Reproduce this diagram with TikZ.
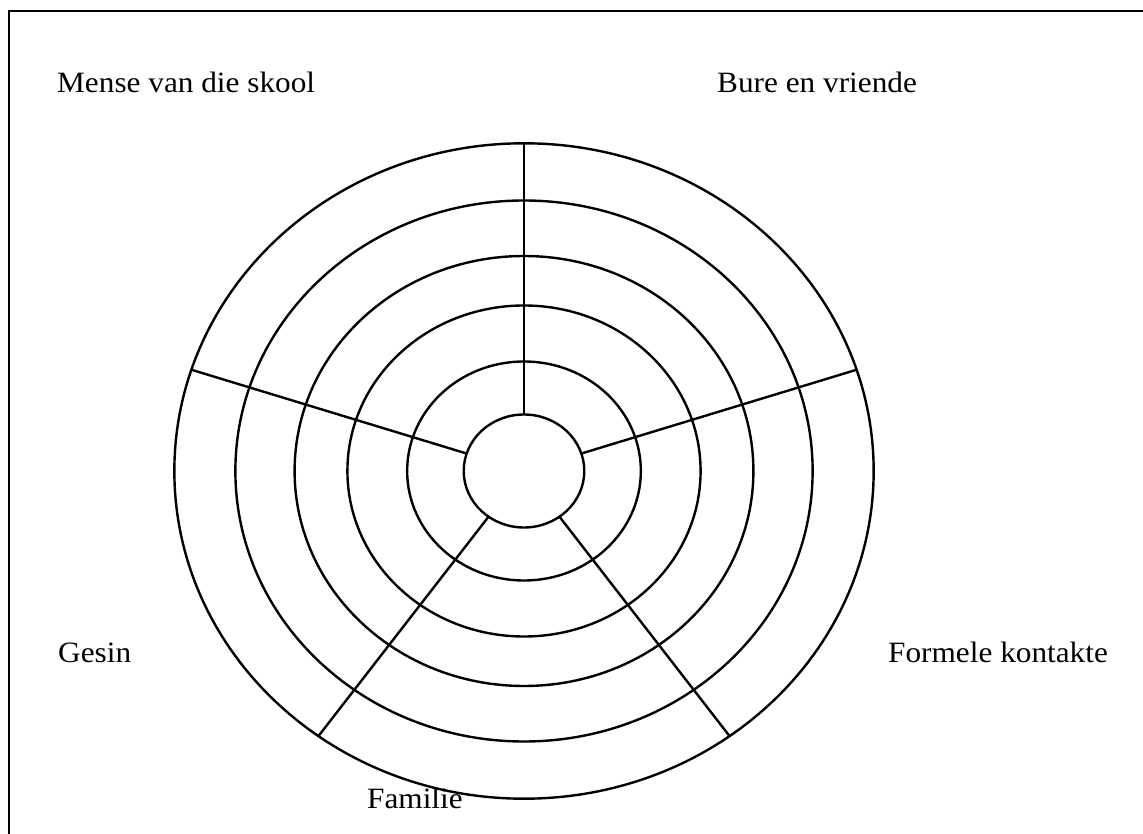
\documentclass[tikz,border=0pt]{standalone}
\usepackage{fontspec}
\setmainfont{Liberation Serif}[FakeStretch=1.06]
\begin{document}
\begin{tikzpicture}[x=1pt,y=1pt,
  ring/.style={line width=2.4pt, black},
  spoke/.style={line width=2.4pt, black},
  frame/.style={line width=2.2pt, black},
  lbl/.style={inner sep=0pt, anchor=base west, font=\fontsize{29.5}{35}\selectfont}]
\useasboundingbox (0,0) rectangle (1143,833);
\clip (0,0) rectangle (1143,833);
\fill[white] (0,0) rectangle (1143,833);
% frame (runs off the right and bottom edges)
\draw[frame] (9,-20) -- (9,822.3) -- (1170,822.3);
% rings
\begin{scope}[shift={(524,362)}, xscale=1.067]
  \foreach \r in {56.5,109.5,165.5,215,270.5,327.7}
    \draw[ring] (0,0) circle[radius=\r];
  \foreach \a in {90,18,-54,-126,162}{
    \coordinate (in\a) at (\a:56.5);
    \coordinate (out\a) at (\a:327.7);
    \draw[spoke] (in\a) -- (out\a);
  }
\end{scope}
% labels
\node[lbl] (skool) at (57,740) {Mense van die skool};
\node[lbl] (bure) at (717,740) {Bure en vriende};
\node[lbl] (gesin) at (58,170) {Gesin};
\node[lbl] (formeel) at (888,170) {Formele kontakte};
\node[lbl] (familie) at (367,25) {Familie};
\end{tikzpicture}
\end{document}
